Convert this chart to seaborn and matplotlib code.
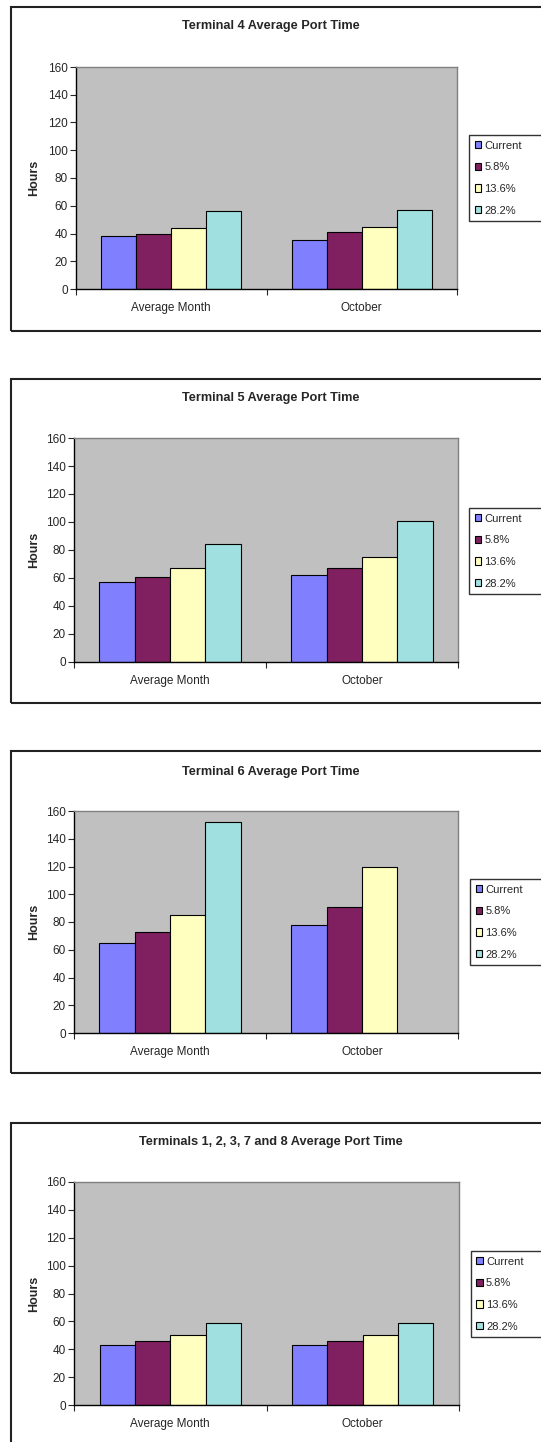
import numpy as np
import pandas as pd
import matplotlib
matplotlib.use('Agg')
import matplotlib.pyplot as plt
from matplotlib.patches import Rectangle
import seaborn as sns

# Data
periods = ['Average Month', 'October']
scenarios = ['Current', '5.8%', '13.6%', '28.2%']
colors = ['#8080FF', '#802060', '#FFFFC0', '#A0E0E0']

t4_avg = [38, 40, 44, 56]
t4_oct = [35, 41, 45, 57]
t5_avg = [57, 61, 67, 84]
t5_oct = [62, 67, 75, 101]
t6_avg = [65, 73, 85, 152]
t6_oct = [78, 91, 120, np.nan]
other_avg = [43, 46, 50, 59]
other_oct = [43, 46, 50, 59]

titles = ['Terminal 4 Average Port Time',
          'Terminal 5 Average Port Time',
          'Terminal 6 Average Port Time',
          'Terminals 1, 2, 3, 7 and 8 Average Port Time']
series = [(t4_avg, t4_oct), (t5_avg, t5_oct), (t6_avg, t6_oct), (other_avg, other_oct)]

# layout in pixels: plot area (left, right, top, bottom), frame (top, bottom), title y, legend (left, top)
W, H = 541, 1442
plot_px = [(76, 457, 67, 289), (74, 458, 438, 662), (74, 458, 811, 1033), (74, 459, 1182, 1405)]
frame_px = [(6.5, 330.5), (379, 702.5), (751, 1073), (1122.5, 1460)]
title_px = [26, 397.5, 771.5, 1141.5]
legend_px = [(469, 135), (469, 508), (470, 879), (470.5, 1251)]

sns.set_style('white')
plt.rcParams['font.family'] = ['Liberation Sans', 'DejaVu Sans']

fig = plt.figure(figsize=(W / 100, H / 100), dpi=100)

for i in range(4):
    avg, octo = series[i]
    df = pd.DataFrame({
        'Period': [periods[0]] * 4 + [periods[1]] * 4,
        'Scenario': scenarios * 2,
        'Hours': list(avg) + list(octo),
    }).dropna()

    # chart area border
    ft, fb = frame_px[i]
    fig.patches.append(Rectangle((11 / W, 1 - fb / H), 600 / W, (fb - ft) / H,
                                 transform=fig.transFigure, fill=False,
                                 edgecolor='#222222', linewidth=1.5))

    l, r, t, b = plot_px[i]
    ax = fig.add_axes([l / W, 1 - b / H, (r - l) / W, (b - t) / H])
    ax.set_facecolor('#C0C0C0')

    sns.barplot(data=df, x='Period', y='Hours', hue='Scenario',
                order=periods, hue_order=scenarios, palette=colors,
                saturation=1, width=0.735, errorbar=None,
                edgecolor='black', linewidth=0.8, ax=ax)

    ax.set_ylim(0, 160)
    ax.set_yticks(range(0, 161, 20))
    ax.set_xlim(-0.5, 1.5)
    ax.set_xticks([0, 1])
    ax.set_xticks([-0.5, 0.5, 1.5], minor=True)
    ax.tick_params(axis='x', which='major', length=0, pad=9.5, labelsize=8.5)
    ax.tick_params(axis='x', which='minor', length=4, width=0.8, direction='out', bottom=True)
    ax.tick_params(axis='y', length=4, width=0.8, direction='out', left=True, pad=2, labelsize=8.5)
    ax.set_xlabel('')
    ax.set_ylabel('Hours', fontsize=9, fontweight='bold')
    ax.yaxis.set_label_coords((40 - l) / (r - l), 0.5)

    for side in ['left', 'bottom']:
        ax.spines[side].set_color('black')
        ax.spines[side].set_linewidth(1.0)
    for side in ['top', 'right']:
        ax.spines[side].set_color('#808080')
        ax.spines[side].set_linewidth(1.0)

    fig.text(271 / W, 1 - title_px[i] / H, titles[i], ha='center', va='center',
             fontsize=9.2, fontweight='bold')

    lx, ly = legend_px[i]
    sns.move_legend(ax, loc='upper left',
                    bbox_to_anchor=(lx / W, 1 - (ly + 85) / H, 90 / W, 85 / H),
                    bbox_transform=fig.transFigure, mode='expand', title=None,
                    frameon=True, fancybox=False, edgecolor='black', fontsize=8,
                    handlelength=0.6, handleheight=0.6, handletextpad=0.3,
                    labelspacing=1.05, borderpad=0.5, borderaxespad=0)
    leg = ax.get_legend()
    leg.get_frame().set_linewidth(1.0)
    leg.set_clip_on(False)

fig.savefig('out.png', dpi=100, facecolor='white')
